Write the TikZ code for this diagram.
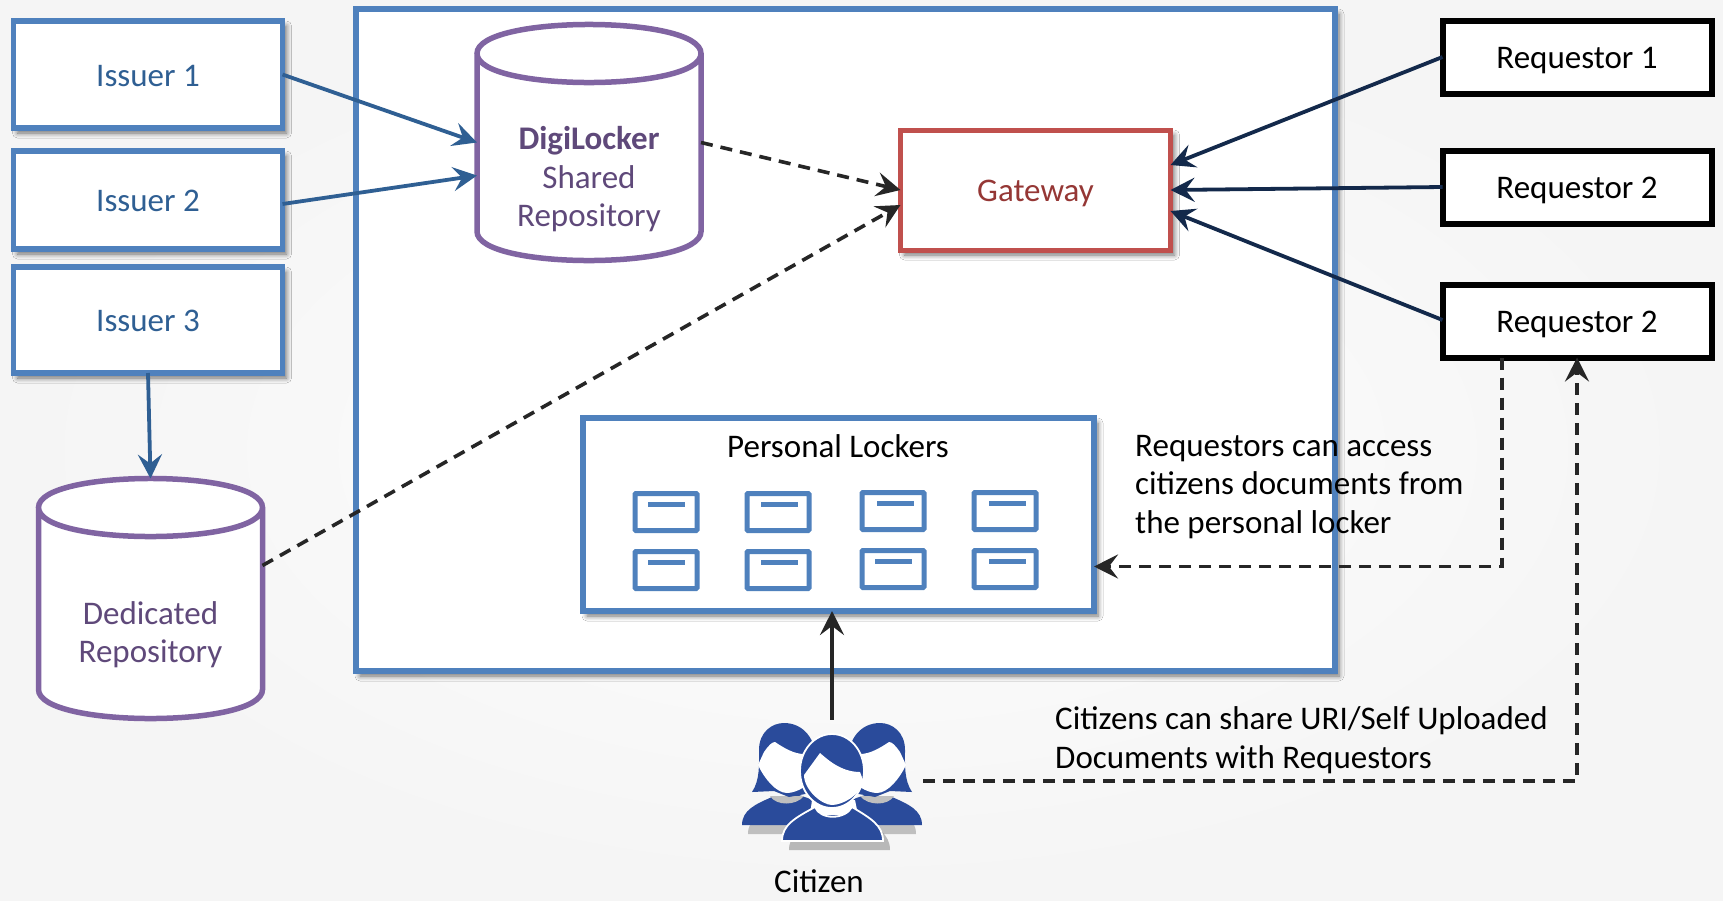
\documentclass[tikz,border=0pt]{standalone}
\usepackage{fontspec}
\setmainfont{Carlito}
\usetikzlibrary{arrows.meta,shadows.blur,calc}
\definecolor{boxblue}{HTML}{4F81BD}
\definecolor{arrowblue}{HTML}{2F5F93}
\definecolor{navyline}{HTML}{13294B}
\definecolor{repopurple}{HTML}{8064A2}
\definecolor{repotext}{HTML}{5F497A}
\definecolor{gatered}{HTML}{C0504D}
\definecolor{gatetext}{HTML}{953735}
\definecolor{citizenblue}{HTML}{2A4B9B}
\tikzset{
	boxshadow/.style={blur shadow={shadow xshift=4pt,shadow yshift=-5pt,shadow blur steps=6,shadow blur radius=5pt,shadow opacity=55}},
	txtfont/.style={font=\fontsize{33}{38.5}\selectfont,inner sep=0pt},
	txt/.style={txtfont,align=center},
	boxtxt/.style={txt,text height=25pt,text depth=2pt},
	sidebox/.style={draw=boxblue,fill=white,line width=5.5pt,outer sep=0pt,text=arrowblue,boxshadow,boxtxt},
	reqbox/.style={draw=black,fill=white,line width=6pt,outer sep=0pt,minimum width=269pt,minimum height=73pt,boxtxt},
	repo/.style={inner sep=0pt,outer sep=0pt,minimum width=224pt},
	repoline/.style={draw=repopurple,fill=white,line width=5.5pt},
	repotxt/.style={txt,text=repotext},
	locker/.style={draw=boxblue,fill=white,line width=5pt,rounded corners=1pt,inner sep=0pt,minimum width=62pt,minimum height=37pt},
	tipblue/.style={-{Stealth[length=24pt,width=24pt,inset=9pt]},line width=3.8pt},
	dashline/.style={-{Stealth[length=24pt,width=24pt,inset=9pt]},line width=3.6pt,draw=black!85,dash pattern=on 12pt off 8pt},
}
% cylinder drawn round a named empty node
\newcommand{\repobody}[1]{%
	\draw[repoline] ([yshift=-29pt]#1.north west) -- ([yshift=29pt]#1.south west)
		.. controls ([yshift=-9.7pt]#1.south west) and ([yshift=-9.7pt]#1.south east) .. ([yshift=29pt]#1.south east)
		-- ([yshift=-29pt]#1.north east)
		.. controls ([yshift=9.7pt]#1.north east) and ([yshift=9.7pt]#1.north west) .. ([yshift=-29pt]#1.north west)
		.. controls ([yshift=-67.7pt]#1.north west) and ([yshift=-67.7pt]#1.north east) .. ([yshift=-29pt]#1.north east);}
\newcommand{\womanfig}[1]{%
	\begin{scope}[#1]
		\fill[black,opacity=.22] (-36,74) .. controls (-36,58) and (-22,52) .. (-6,45) -- (21,43) .. controls (41,50) and (66,58) .. (66,74) -- cycle;
		\fill[citizenblue] (-42,65) .. controls (-42,50) and (-28,44) .. (-12,37) -- (15,35) .. controls (35,42) and (60,50) .. (60,65) -- cycle;
		\fill[black!25] (-14,36) .. controls (-8,46) and (12,46) .. (20,36) -- cycle;
		\fill[citizenblue] (-32,32) .. controls (-24,20) and (-25,5) .. (-25,-10) .. controls (-25,-28) and (-12,-37) .. (0,-37) .. controls (20,-37) and (32,-20) .. (32,0) -- (32,32) -- (5,37) -- (-10,31) -- cycle;
		\fill[white] (-26,5) -- (-20,-8) .. controls (-15,-15) and (-12,-18) .. (-9,-18) .. controls (0,-12) and (10,-6) .. (20,-6) -- (30,10) .. controls (30,25) and (12,33) .. (3,33) .. controls (-8,33) and (-20,18) .. (-26,5) -- cycle;
	\end{scope}}
\begin{document}
\begin{tikzpicture}[x=1pt,y=-1pt]
	\useasboundingbox (0,0) rectangle (1723,900);
	\shade[inner color=white!70!black!1,outer color=black!4] (0,0) rectangle (1723,900);
	% central box
	\node[sidebox,minimum width=979pt,minimum height=662pt] (platform) at (845.5,340) {};
	% issuers
	\node[sidebox,minimum width=269pt,minimum height=107pt] (issuerA) at (148,74.5) {Issuer 1};
	\node[sidebox,minimum width=269pt,minimum height=98pt] (issuerB) at (148,200) {Issuer 2};
	\node[sidebox,minimum width=269pt,minimum height=106pt] (issuerC) at (148,320) {Issuer 3};
	% repositories
	\node[repo,minimum height=236pt] (digi) at (589,142.5) {};
	\repobody{digi}
	\node[repotxt] (digitext) at ([yshift=-37pt]digi.center) {\textbf{DigiLocker}\\Shared\\Repository};
	\node[repo,minimum height=240pt] (dedicated) at (150.5,598.5) {};
	\repobody{dedicated}
	\node[repotxt] (dedicatedtext) at ([yshift=-36pt]dedicated.center) {Dedicated\\Repository};
	% gateway
	\node[draw=gatered,fill=white,line width=5pt,outer sep=0pt,minimum width=270pt,minimum height=120pt,text=gatetext,boxtxt,boxshadow] (gateway) at (1035.5,190) {Gateway};
	% requestors
	\node[reqbox] (reqA) at (1577,57) {Requestor 1};
	\node[reqbox] (reqB) at (1577,187) {Requestor 2};
	\node[reqbox] (reqC) at (1577,321) {Requestor 2};
	% personal lockers
	\node[sidebox,minimum width=511pt,minimum height=193pt] (lockers) at (838.5,514.5) {};
	\node[txt,text=black] (lockerlabel) at (838,446) {Personal Lockers};
	\foreach \x/\y/\d in {666/512/0,778/512/1,893/511/2,1005/511/2,666/570/0,778/570/1,893/569/0,1005/569/2} {
		\node[locker] (box\x\y) at (\x,\y) {};
		\fill[boxblue] ($(box\x\y.north)+(\d-18,11)$) rectangle ++(37,5);
	}
	% citizen
	\node[inner sep=0pt,minimum width=182pt,minimum height=110pt] (citizen) at (832,788) {};
	\womanfig{shift={(784,760)}}
	\womanfig{shift={(880,760)},xscale=-1}
	\fill[black,opacity=.25] (789,850) .. controls (789,834) and (802,827) .. (822,816) -- (859,816) .. controls (877,827) and (890,834) .. (890,850) -- cycle;
	\fill[white] (812,800) -- (855,800) -- (858,815) -- (810,815) -- cycle;
	\draw[fill=citizenblue,draw=white,line width=1.8pt] (782,841) .. controls (782,825) and (795,818) .. (815,807) .. controls (820,820) and (845,820) .. (852,807) .. controls (870,818) and (883,825) .. (883,841) -- cycle;
	\draw[fill=citizenblue,draw=white,line width=1.8pt] (832,771) ellipse (32 and 37);
	\fill[white] (804,775) -- (820,753) .. controls (826,758) and (840,772) .. (860,772) -- (863,780) .. controls (862,795) and (842,805) .. (832,805) .. controls (822,805) and (804,790) .. (804,775) -- cycle;
	\node[txtfont,text=black] (citizenlabel) at (819,881) {Citizen};
	% texts
	\node[txt,text=black,align=left,anchor=west] (accesstext) at (1135,487) {Requestors can access\\citizens documents from\\the personal locker};
	\node[txt,text=black,align=left,anchor=west] (sharetext) at (1055,740) {Citizens can share URI/Self Uploaded\\Documents with Requestors};
	% connectors
	\draw[tipblue,arrowblue] (issuerA.east) -- (digi.west);
	\draw[tipblue,arrowblue] ([yshift=-4pt]issuerB.east) -- ([yshift=-33pt]digi.west);
	\draw[tipblue,arrowblue] (issuerC.south) -- (dedicated.north);
	\draw[tipblue,navyline] (reqA.west) -- ([yshift=25pt]gateway.east);
	\draw[tipblue,navyline] (reqB.west) -- (gateway.east);
	\draw[tipblue,navyline] ([yshift=1pt]reqC.west) -- ([yshift=-21pt]gateway.east);
	\draw[dashline] (digi.east) -- (gateway.west);
	\draw[dashline] ([yshift=33pt]dedicated.east) -- ([yshift=-15pt]gateway.west);
	\coordinate (lockerup) at (lockers.south -| citizen.north);
	\draw[tipblue,draw=black!85] ([yshift=13pt]citizen.north) -- (lockerup);
	\draw[dashline] ([xshift=-75pt]reqC.south) |- ([yshift=-52pt]lockers.east);
	\draw[dashline] ([yshift=7pt]citizen.east) -| (reqC.south);
\end{tikzpicture}
\end{document}
